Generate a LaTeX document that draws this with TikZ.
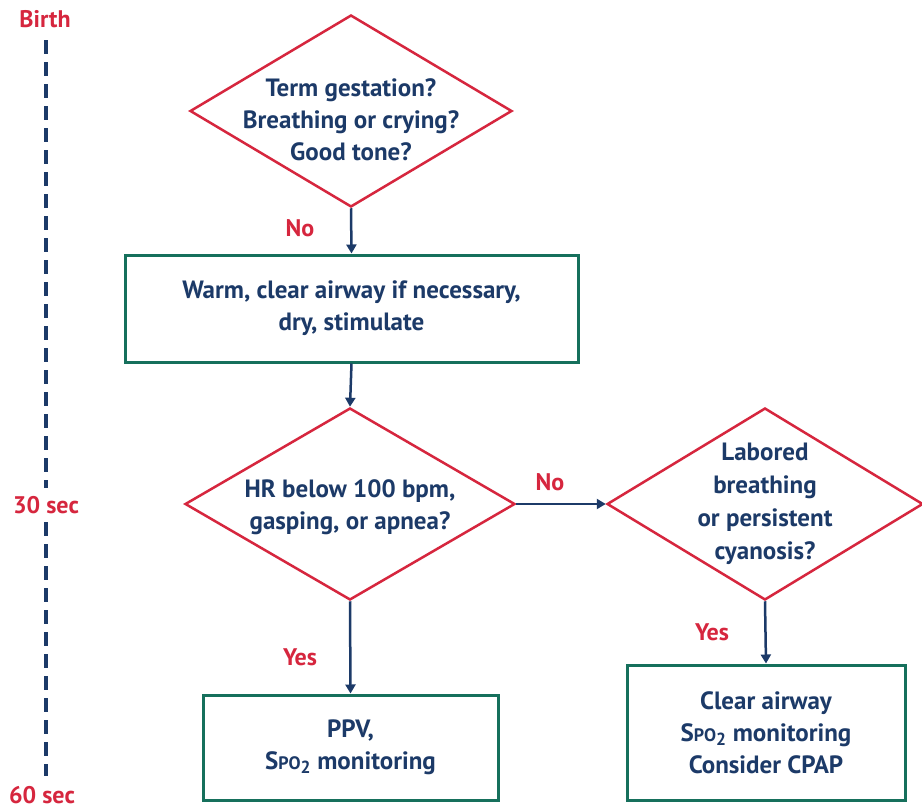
\documentclass[tikz,border=0pt]{standalone}
\usepackage{fontspec}
\setmainfont{PT Sans}
\usetikzlibrary{shapes.geometric,arrows.meta}
\definecolor{cred}{RGB}{214,38,62}
\definecolor{cblue}{RGB}{28,58,104}
\definecolor{cgreen}{RGB}{22,112,92}
\newcommand{\spotwo}{S{\fontsize{18}{18}\selectfont PO}\textsubscript{2}}
\begin{document}
\begin{tikzpicture}[x=1pt,y=-1pt,
 txt/.style={font=\bfseries\fontsize{25}{32}\selectfont, text=cblue, align=center, inner sep=0pt},
 dia/.style={draw=cred, line width=2.5pt, shape=diamond, inner sep=0pt},
 box/.style={draw=cgreen, line width=3pt, inner sep=0pt, font=\bfseries\fontsize{25}{32}\selectfont, text=cblue, align=center},
 lab/.style={font=\bfseries\fontsize{24}{28}\selectfont, text=cred, inner sep=0pt},
 arr/.style={draw=cblue, line width=2.5pt, -{Triangle[length=9pt,width=10pt]}},
 tl/.style={draw=cblue, line width=3.5pt, dash pattern=on 14pt off 8pt}]
\useasboundingbox (0,0) rectangle (922,811);
\fill[white] (0,0) rectangle (922,811);
% timeline
\node[lab] (birth) at (45,19) {Birth};
\node[lab] (t30) at (46,505) {30 sec};
\node[lab] (t60) at (42,795) {60 sec};
\coordinate (tl0) at (46,40);
\coordinate (tl1) at (46,488);
\coordinate (tl2) at (46,522);
\coordinate (tl3) at (46,776);
\draw[tl] (tl0) -- (tl1);
\draw[tl] (tl2) -- (tl3);
% diamonds
\node[dia, minimum width=322pt, minimum height=192pt] (d1) at (351,111) {};
\node[txt] (d1t) at (351,120) {Term gestation?\\Breathing or crying?\\Good tone?};
\node[dia, minimum width=330pt, minimum height=192pt] (d2) at (350,504) {};
\node[txt] (d2t) at (350,507) {HR below 100 bpm,\\gasping, or apnea?};
\node[dia, minimum width=316pt, minimum height=192pt] (d3) at (765,504) {};
\node[txt, font=\bfseries\fontsize{25}{33}\selectfont] (d3t) at (765,504) {Labored\\breathing\\or persistent\\cyanosis?};
% boxes
\node[box, minimum width=453pt, minimum height=107pt] (b1) at (351.5,308.5) {Warm, clear airway if necessary,\\dry, stimulate};
\node[box, minimum width=295pt, minimum height=105pt] (b2) at (350.5,747.5) {PPV,\\\spotwo{} monitoring};
\node[box, minimum width=278pt, minimum height=135pt] (b3) at (766,732.5) {Clear airway\\\spotwo{} monitoring\\Consider CPAP};
% arrows
\draw[arr] (d1.south) -- (b1.north);
\draw[arr] (b1.south) -- (d2.north);
\draw[arr] (d2.east) -- (d3.west);
\draw[arr] (d2.south) -- (b2.north);
\draw[arr] (d3.south) -- (b3.north);
% labels
\node[lab] (no1) at (300,228) {No};
\node[lab] (no2) at (550,482) {No};
\node[lab] (yes1) at (300,657) {Yes};
\node[lab] (yes2) at (712,632) {Yes};
\end{tikzpicture}
\end{document}
